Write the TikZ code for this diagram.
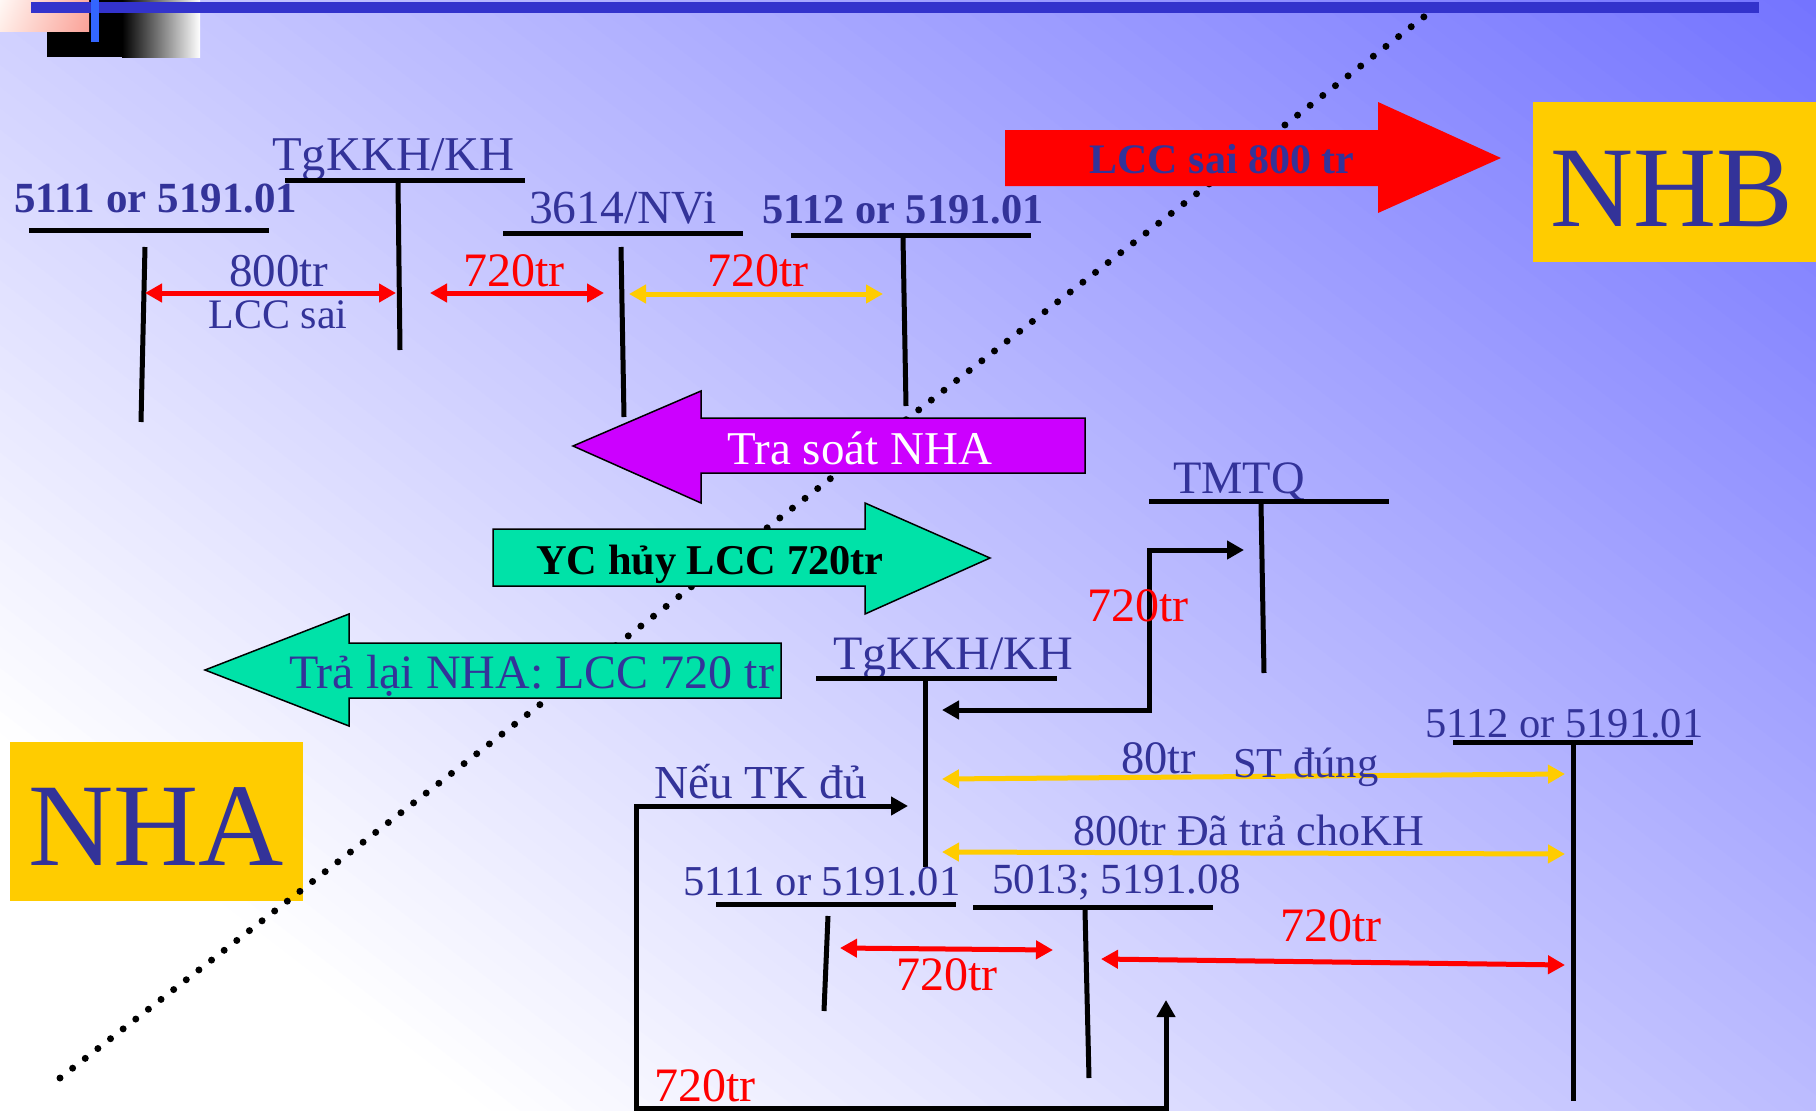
\documentclass[tikz,border=0pt]{standalone}
\usepackage{fontspec}
\setmainfont{Liberation Serif}
\usetikzlibrary{arrows.meta,shadings}
\definecolor{txtblue}{RGB}{51,51,153}
\definecolor{barblue}{RGB}{51,51,204}
\definecolor{lineblue}{RGB}{51,102,255}
\definecolor{boxyellow}{RGB}{255,204,0}
\definecolor{arrowyellow}{RGB}{255,204,0}
\definecolor{greenarr}{RGB}{0,226,168}
\definecolor{purplearr}{RGB}{204,0,255}
\definecolor{bgtop}{RGB}{115,115,255}
\definecolor{pinkUL}{RGB}{255,248,245}
\definecolor{pinkUR}{RGB}{252,170,160}
\definecolor{pinkLL}{RGB}{255,236,230}
\definecolor{pinkLR}{RGB}{250,162,152}
\tikzset{
  fs/.style={font=\fontsize{#1}{#1}\selectfont},
  fsb/.style={font=\bfseries\fontsize{#1}{#1}\selectfont},
  lbl/.style={inner sep=0pt, text=txtblue},
  redlbl/.style={inner sep=0pt, text=red, fs=48},
  tline/.style={line width=5pt, black},
  redarr/.style={red, line width=5pt, {Triangle[length=17pt,width=18pt]}-{Triangle[length=17pt,width=18pt]}},
  yelarr/.style={arrowyellow, line width=5pt, {Triangle[length=17pt,width=18pt]}-{Triangle[length=17pt,width=18pt]}},
  blkarr/.style={black, line width=5pt, {Triangle[length=17pt,width=18pt]}-{Triangle[length=17pt,width=18pt]}},
  bigarrow/.style={draw=black, line width=1.5pt},
}
\begin{document}
\begin{tikzpicture}[x=1pt,y=-1pt]
\useasboundingbox (0,0) rectangle (1816,1111);
% background: linear diagonal gradient, white (bottom-left) to blue (top-right)
\begin{scope}
\clip (0,0) rectangle (1816,1111);
\fill[white] (0,0) rectangle (1816,1111);
\foreach \i in {0,...,99}{
  \pgfmathsetmacro\sa{283+\i*17.06}
  \pgfmathsetmacro\sb{\sa+18.5}
  \fill[bgtop!\i!white] ({0.610*\sa+1190},{2026-0.793*\sa}) -- ({0.610*\sb+1190},{2026-0.793*\sb}) -- ({0.610*\sb-555},{684-0.793*\sb}) -- ({0.610*\sa-555},{684-0.793*\sa}) -- cycle;
}
\end{scope}
% top-left decoration
\fill[black] (47,0) rectangle (122,57);
\shade[left color=black, right color=white] (122,0) rectangle (200,57);
\shade[upper left=pinkUL, upper right=pinkUR, lower left=pinkLL, lower right=pinkLR] (0,0) rectangle (89,31);
\fill[barblue] (31,2) rectangle (1759,13);
\fill[lineblue] (91,0) rectangle (99,42);
% NHA / NHB boxes
\fill[boxyellow] (1533,102) rectangle (1816,262);
\node[lbl, fs=115, anchor=base] (nhb) at (1672,226) {NHB};
\fill[boxyellow] (10,742) rectangle (303,901);
\node[lbl, fs=118, anchor=base] (nha) at (156,865) {NHA};
% dotted divider
\coordinate (dotA) at (60,1078);
\coordinate (dotB) at (1425,16);
\draw[line width=7pt, line cap=round, dash pattern=on 0pt off 16pt] (dotA) -- (dotB);
% big arrows
\fill[red] (1005,130) -- (1378,130) -- (1378,102) -- (1501,158) -- (1378,213) -- (1378,186) -- (1005,186) -- cycle;
\node[lbl, fsb=42, anchor=base] (lccsai) at (1222,173) {LCC sai 800 tr};
\filldraw[bigarrow, fill=purplearr] (573,446) -- (701,391) -- (701,418) -- (1085,418) -- (1085,473) -- (701,473) -- (701,503) -- cycle;
\node[inner sep=0pt, text=white, fs=47, anchor=base] (trasoat) at (860,464) {Tra soát NHA};
\filldraw[bigarrow, fill=greenarr] (493,529) -- (865,529) -- (865,503) -- (990,558) -- (865,614) -- (865,586) -- (493,586) -- cycle;
\node[inner sep=0pt, text=black, fsb=42.4, anchor=base west] (ychuy) at (536,574) {YC hủy LCC 720tr};
\filldraw[bigarrow, fill=greenarr] (205,670) -- (349,614) -- (349,643) -- (781,643) -- (781,698) -- (349,698) -- (349,726) -- cycle;
\node[lbl, fs=48, anchor=base west] (tralai) at (289,688) {Trả lại NHA: LCC 720 tr};
% ---------- upper T-accounts ----------
\node[lbl, fsb=43, anchor=base west] (ta) at (14,212) {5111 or 5191.01};
\draw[tline] (29,230) -- (269,230);
\draw[tline] (145,247) -- (141,422);
\node[lbl, fs=48.5, anchor=base west] (tb) at (272,170) {TgKKH/KH};
\draw[tline] (285,180) -- (525,180);
\draw[tline] (398,183) -- (400,350);
\node[lbl, fs=47.5, anchor=base west] (tc) at (529,223) {3614/NVi};
\draw[tline] (503,233) -- (743,233);
\draw[tline] (621,247) -- (624,417);
\node[lbl, fsb=42.4, anchor=base west] (td) at (762,223) {5112 or 5191.01};
\draw[tline] (791,235) -- (1031,235);
\draw[tline] (903,237) -- (906,406);
\coordinate (a1l) at (145,293); \coordinate (a1r) at (396,293);
\coordinate (a2l) at (430,293); \coordinate (a2r) at (604,293);
\coordinate (a3l) at (629,294); \coordinate (a3r) at (883,294);
\draw[redarr] (a1l) -- (a1r);
\draw[redarr] (a2l) -- (a2r);
\draw[yelarr] (a3l) -- (a3r);
\node[lbl, fs=47, anchor=base] (l800) at (279,286) {800tr};
\node[lbl, fs=42, anchor=base] (llcc) at (278,328) {LCC sai};
\node[redlbl, anchor=base] (l720a) at (514,286) {720tr};
\node[redlbl, anchor=base] (l720b) at (758,286) {720tr};
% ---------- lower T-accounts ----------
\node[lbl, fs=46.5, anchor=base west] (tmtq) at (1173,493) {TMTQ};
\draw[tline] (1149,501) -- (1389,501);
\draw[tline] (1261,503) -- (1264,673);
\node[lbl, fs=48, anchor=base west] (tkh) at (833,669) {TgKKH/KH};
\draw[tline] (816,678) -- (1057,678);
\draw[tline] (925,680) -- (925,867);
\node[lbl, fs=42.5, anchor=base west] (te) at (1425,737) {5112 or 5191.01};
\draw[tline] (1453,742) -- (1693,742);
\draw[tline] (1573,745) -- (1573,1101);
\node[lbl, fs=42.6, anchor=base west] (tf) at (683,895) {5111 or 5191.01};
\draw[tline] (716,904) -- (956,904);
\draw[tline] (828,916) -- (824,1011);
\node[lbl, fs=43, anchor=base west] (tg) at (992,893) {5013; 5191.08};
\draw[tline] (973,907) -- (1213,907);
\draw[tline] (1085,910) -- (1089,1078);
% connectors
\coordinate (b1) at (942,710); \coordinate (b2) at (1149,710);
\coordinate (b3) at (1149,550); \coordinate (b4) at (1244,550);
\draw[blkarr] (b1) -- (b2) -- (b3) -- (b4);
\node[redlbl, anchor=base] (l720c) at (1138,621) {720tr};
\coordinate (y1l) at (942,779); \coordinate (y1r) at (1565,774);
\coordinate (y2l) at (942,852); \coordinate (y2r) at (1565,854);
\draw[yelarr] (y1l) -- (y1r);
\draw[yelarr] (y2l) -- (y2r);
\node[lbl, fs=46.5, anchor=base west] (l80) at (1121,773) {80tr};
\node[lbl, fs=42.5, anchor=base west] (lst) at (1233,777) {ST đúng};
\node[lbl, fs=44, anchor=base west] (l800b) at (1073,845) {800tr Đã trả choKH};
\node[lbl, fs=47.3, anchor=base west] (neu) at (654,798) {Nếu TK đủ};
\coordinate (c1) at (908,806); \coordinate (c2) at (636,806);
\coordinate (c3) at (636,1108); \coordinate (c4) at (1166,1108);
\coordinate (c5) at (1166,1000);
\draw[blkarr, line join=miter] (c1) -- (c2) -- (c3) -- (c4) -- (c5);
\coordinate (r1l) at (840,948); \coordinate (r1r) at (1053,950);
\coordinate (r2l) at (1101,959); \coordinate (r2r) at (1565,965);
\draw[redarr] (r1l) -- (r1r);
\draw[redarr] (r2l) -- (r2r);
\node[redlbl, anchor=base] (l720d) at (947,990) {720tr};
\node[redlbl, anchor=base] (l720e) at (1331,941) {720tr};
\node[redlbl, anchor=base west] (l720f) at (654,1101) {720tr};
\end{tikzpicture}
\end{document}
